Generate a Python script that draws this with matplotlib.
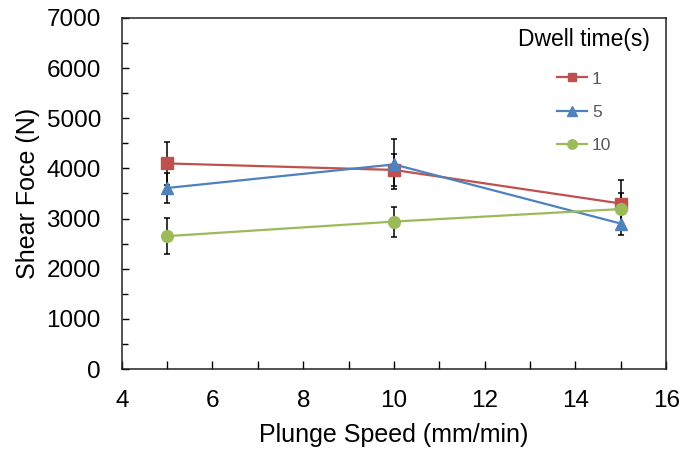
import matplotlib
matplotlib.use("Agg")
import matplotlib.pyplot as plt
from matplotlib.ticker import MultipleLocator

plt.rcParams['font.family'] = ['Liberation Sans', 'DejaVu Sans']

speed = [5, 10, 15]
dwell_labels = ["1", "5", "10"]
force_1 = [4100, 3970, 3300]
force_5 = [3610, 4080, 2900]
force_10 = [2650, 2940, 3190]
err_1 = [430, 320, 460]
err_5 = [290, 500, 230]
err_10 = [355, 300, 320]

series = [
    (force_1, err_1, "#C0504D", "s", 8),
    (force_5, err_5, "#4F81BD", "^", 8.5),
    (force_10, err_10, "#9BBB59", "o", 8.5),
]

fig = plt.figure(figsize=(6.84, 4.5), dpi=100)
ax = fig.add_axes([0.178, 0.18, 0.796, 0.78])

for (vals, errs, color, marker, ms), label in zip(series, dwell_labels):
    ax.errorbar(speed, vals, yerr=errs, fmt="none", ecolor="black",
                elinewidth=1.1, capsize=2.3, capthick=1.1, zorder=2)
    ax.plot(speed, vals, color=color, marker=marker, markersize=ms,
            linewidth=1.6, label=label, zorder=3)

ax.set_xlim(4, 16)
ax.set_ylim(0, 7000)
ax.xaxis.set_major_locator(MultipleLocator(2))
ax.xaxis.set_minor_locator(MultipleLocator(1))
ax.yaxis.set_major_locator(MultipleLocator(1000))
ax.yaxis.set_minor_locator(MultipleLocator(500))
ax.tick_params(axis="both", which="both", direction="in", top=False, right=False,
               labelsize=17.5, colors="black", width=1)
ax.tick_params(axis="y", which="major", length=5)
ax.tick_params(axis="y", which="minor", length=4)
ax.tick_params(axis="x", which="both", length=5.5)
ax.tick_params(axis="x", which="major", pad=15)
ax.tick_params(axis="y", which="major", pad=15)
for s in ax.spines.values():
    s.set_linewidth(1.1)
    s.set_color("#222222")

ax.set_xlabel("Plunge Speed (mm/min)", fontsize=18, labelpad=8)
ax.set_ylabel("Shear Foce (N)", fontsize=18, labelpad=5)

leg = ax.legend(title="Dwell time(s)", loc="upper right", bbox_to_anchor=(0.985, 0.995),
                frameon=False, fontsize=12.5, title_fontsize=16.5, handlelength=1.7,
                handletextpad=0.3, labelspacing=1.05, markerscale=0.8,
                borderaxespad=0.05)
for t in leg.get_texts():
    t.set_color("#595959")
leg._legend_box.sep = 15

fig.savefig("out.png", dpi=100, facecolor="white")
